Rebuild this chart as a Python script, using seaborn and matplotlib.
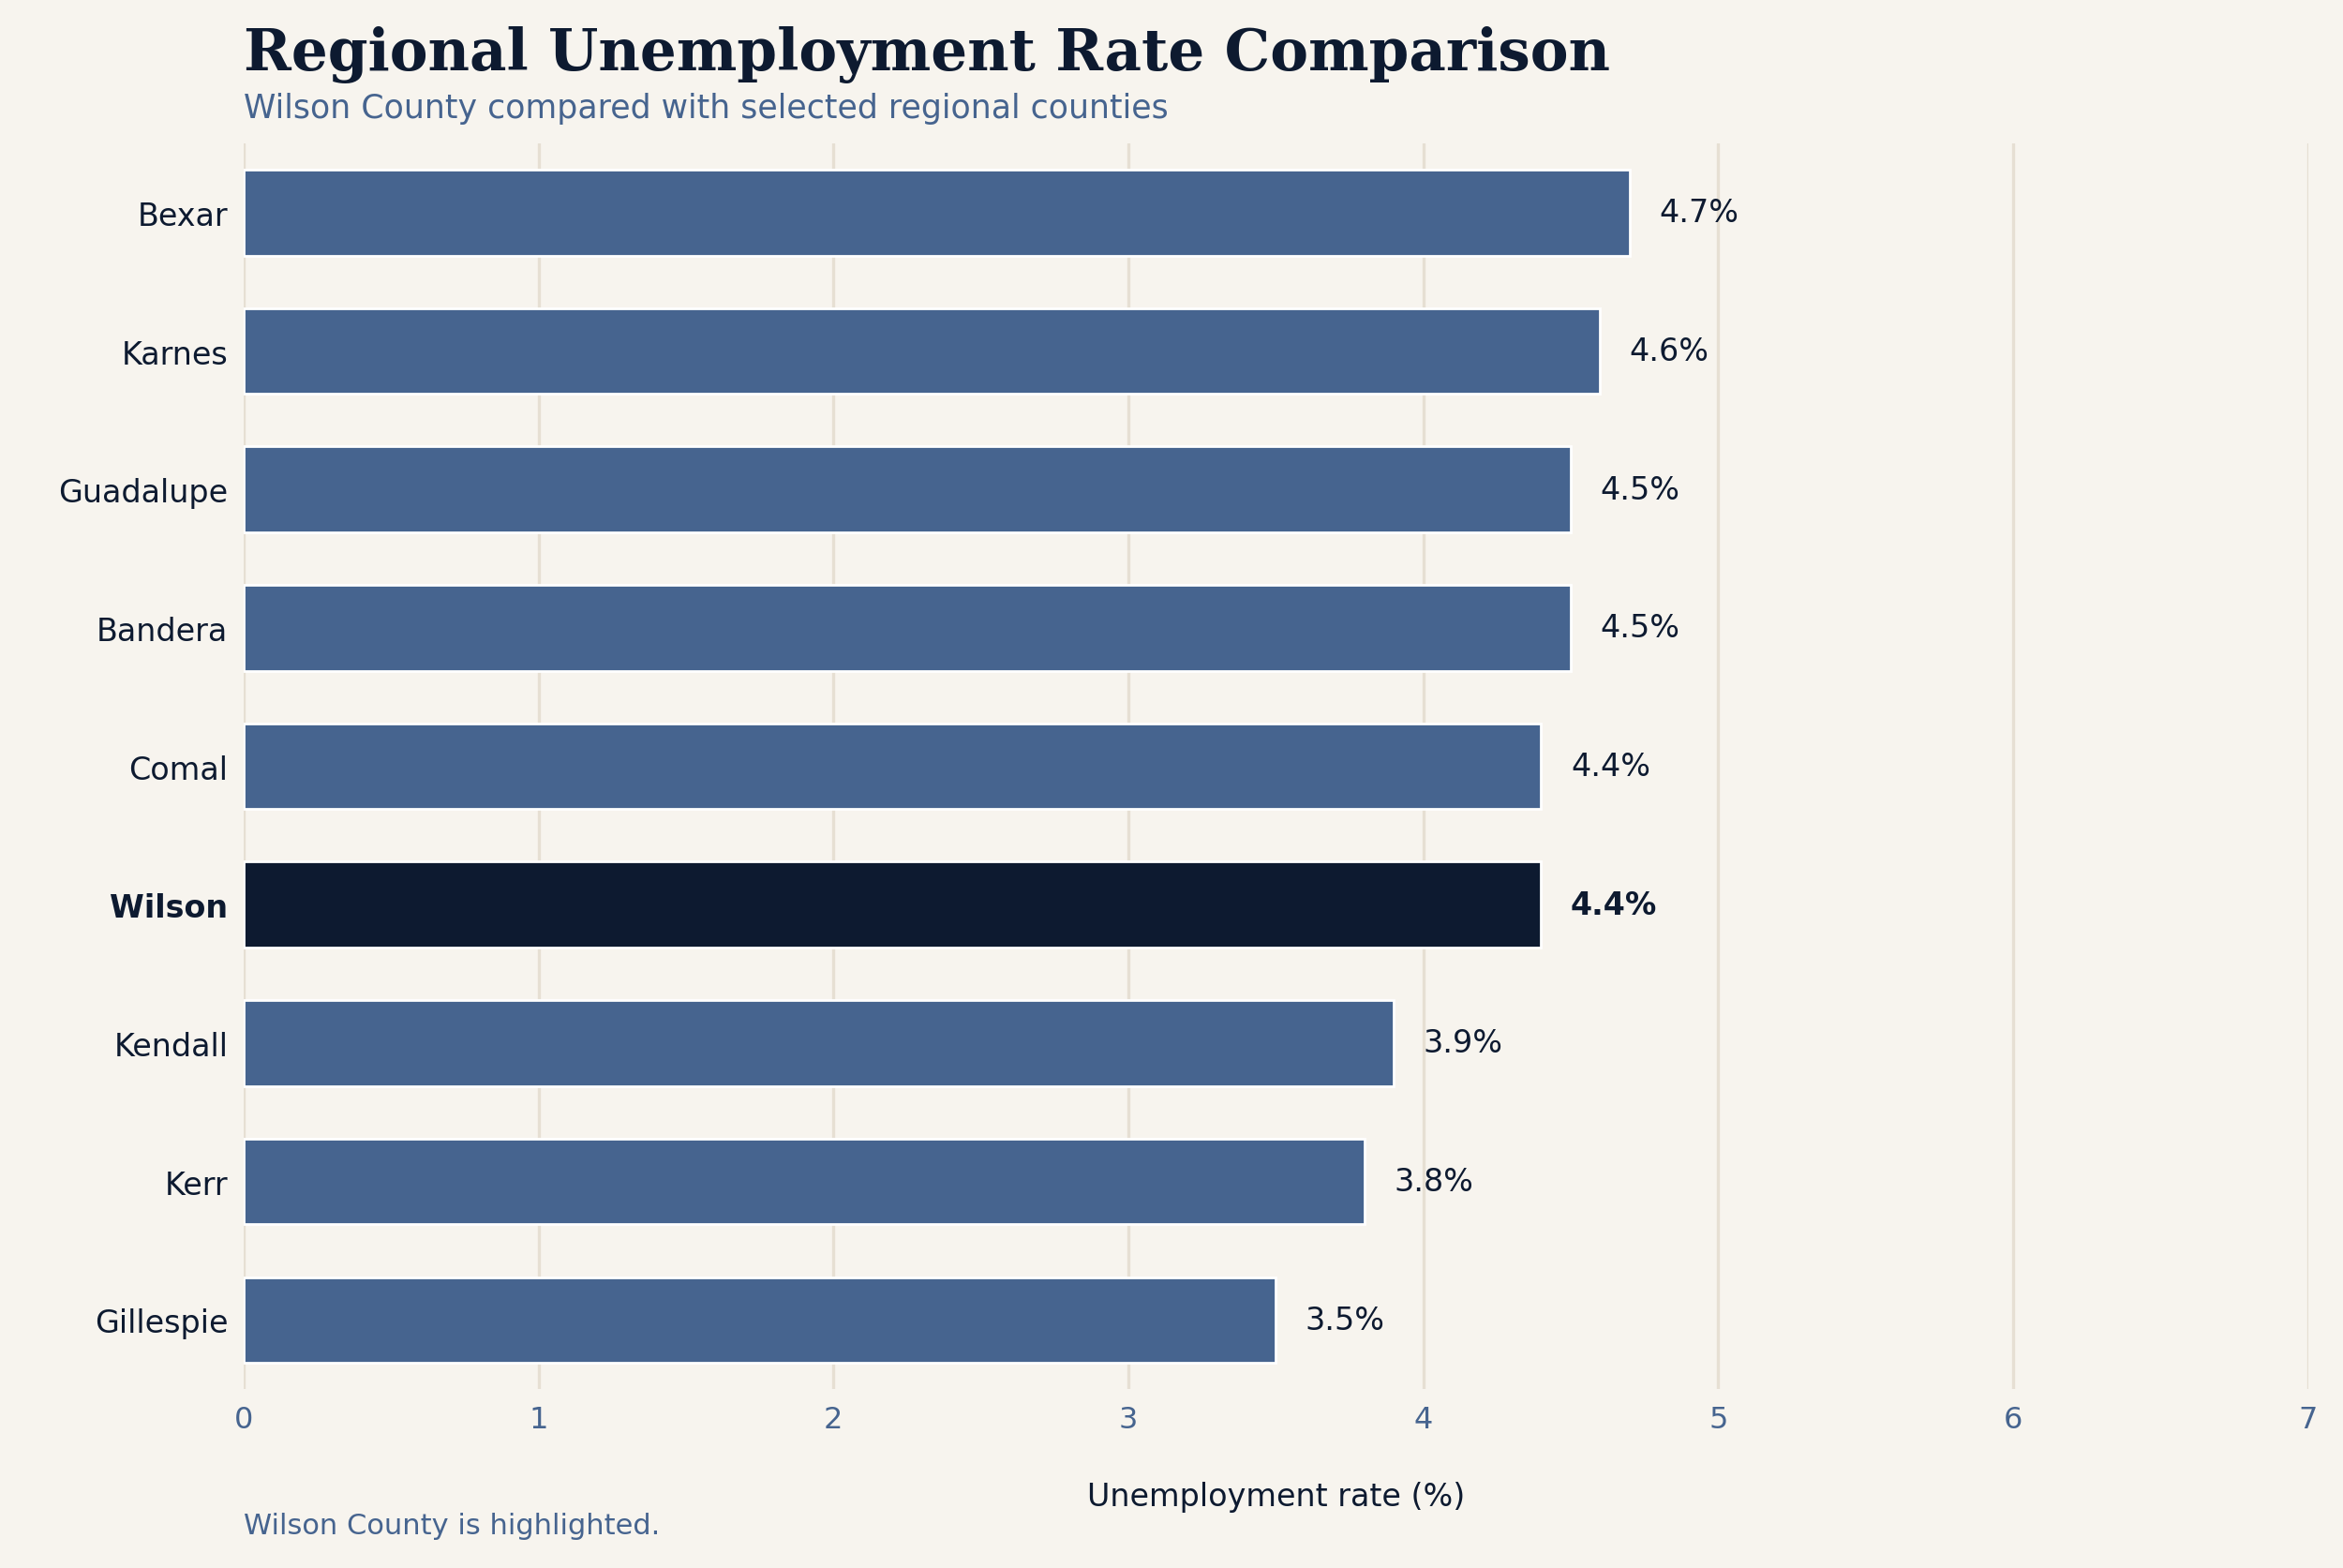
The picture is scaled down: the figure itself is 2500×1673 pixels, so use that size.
import matplotlib
matplotlib.use("Agg")
import matplotlib.pyplot as plt
import seaborn as sns
import pandas as pd

counties = ["Bexar", "Karnes", "Guadalupe", "Bandera", "Comal", "Wilson", "Kendall", "Kerr", "Gillespie"]
rates = [4.7, 4.6, 4.5, 4.5, 4.4, 4.4, 3.9, 3.8, 3.5]
highlight = "Wilson"

BG = "#f7f4ee"; BAR = "#46648f"; HI = "#0d1a30"; GRID = "#e6dfd3"
sns.set_theme(style="white")
plt.rcParams['font.family'] = ['DejaVu Sans']

df = pd.DataFrame({"county": counties, "rate": rates})
fig = plt.figure(figsize=(12.5, 8.37), dpi=200, facecolor=BG)
ax = fig.add_axes([0.104, 0.114, 0.881, 0.794], facecolor=BG)
palette = {c: (HI if c == highlight else BAR) for c in counties}
sns.barplot(data=df, y="county", x="rate", hue="county", palette=palette, orient="h",
            width=0.62, ax=ax, legend=False, saturation=1)
ax.set_xlim(0, 7)
ax.set_xticks(range(0, 8))
ax.grid(axis="x", color=GRID, linewidth=1.2)
ax.set_axisbelow(True)
for s in ax.spines.values():
    s.set_visible(False)
ax.tick_params(axis="x", colors=BAR, labelsize=11.5, length=0, pad=6)
ax.tick_params(axis="y", labelsize=12, length=0, pad=6, labelcolor=HI)
for lab in ax.get_yticklabels():
    if lab.get_text() == highlight:
        lab.set_fontweight("bold")
ax.set_ylabel("")
ax.set_xlabel("Unemployment rate (%)", fontsize=12, color=HI, labelpad=18)
for i, (c, r) in enumerate(zip(counties, rates)):
    ax.text(r + 0.1, i, f"{r}%", va="center", ha="left", fontsize=12, color=HI,
            fontweight="bold" if c == highlight else "normal")
fig.text(0.104, 0.965, "Regional Unemployment Rate Comparison", family="DejaVu Serif",
         fontweight="bold", fontsize=22, color=HI, va="center")
fig.text(0.104, 0.931, "Wilson County compared with selected regional counties",
         fontsize=12.5, color=BAR, va="center")
fig.text(0.104, 0.027, "Wilson County is highlighted.", fontsize=11, color=BAR, va="center")
fig.savefig("out.png", dpi=200, facecolor=BG)
